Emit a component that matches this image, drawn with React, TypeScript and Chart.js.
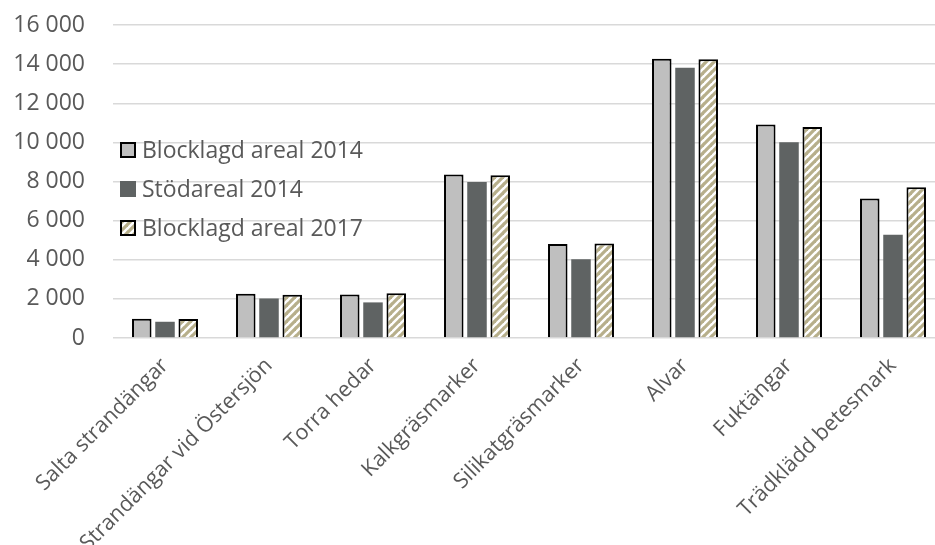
import React, { useEffect, useRef } from 'react';
import { Chart, registerables } from 'chart.js';

Chart.register(...registerables);

const categories = [
  'Salta strandängar',
  'Strandängar vid Östersjön',
  'Torra hedar',
  'Kalkgräsmarker',
  'Silikatgräsmarker',
  'Alvar',
  'Fuktängar',
  'Trädklädd betesmark',
];
const seriesNames = ['Blocklagd areal 2014', 'Stödareal 2014', 'Blocklagd areal 2017'];
const blocklagd2014 = [990, 2260, 2220, 8360, 4800, 14280, 10910, 7130];
const stodareal2014 = [830, 2020, 1820, 7970, 4030, 13820, 10010, 5280];
const blocklagd2017 = [970, 2210, 2290, 8320, 4830, 14250, 10790, 7710];
const yMax = 16000;
const yStep = 2000;

const TEXT = '#595959';
const FONT = '"Open Sans", sans-serif';

function makeHatch(ctx: CanvasRenderingContext2D): CanvasPattern | string {
  const c = document.createElement('canvas');
  const s = 8;
  c.width = s;
  c.height = s;
  const g = c.getContext('2d');
  if (!g) return '#ffffff';
  g.fillStyle = '#ffffff';
  g.fillRect(0, 0, s, s);
  g.strokeStyle = '#b7af8b';
  g.lineWidth = 3.2;
  g.lineCap = 'square';
  for (const off of [-s, 0, s]) {
    g.beginPath();
    g.moveTo(off, s);
    g.lineTo(off + s, 0);
    g.stroke();
  }
  return ctx.createPattern(c, 'repeat') || '#ffffff';
}

const fmt = (v: number) => String(v).replace(/\B(?=(\d{3})+(?!\d))/g, ' ');

const legendPlugin = {
  id: 'insideLegend',
  afterDatasetsDraw(chart: any) {
    const ctx = chart.ctx as CanvasRenderingContext2D;
    const area = chart.chartArea;
    const x0 = area.left + 7;
    const y0 = area.top + 125;
    const gap = 39;
    ctx.save();
    chart.data.datasets.forEach((ds: any, i: number) => {
      const cy = y0 + i * gap;
      const box = 16;
      ctx.fillStyle = ds.backgroundColor;
      ctx.fillRect(x0, cy - box / 2, box, box);
      if (ds.borderWidth > 0) {
        ctx.strokeStyle = '#000';
        ctx.lineWidth = 2;
        ctx.strokeRect(x0 + 1, cy - box / 2 + 1, box - 2, box - 2);
      }
      ctx.fillStyle = TEXT;
      ctx.font = `23px ${FONT}`;
      ctx.textBaseline = 'middle';
      ctx.textAlign = 'left';
      ctx.fillText(ds.label, x0 + box + 6, cy + 1);
    });
    ctx.restore();
  },
};

export default function App() {
  const ref = useRef<HTMLCanvasElement | null>(null);

  useEffect(() => {
    const canvas = ref.current;
    if (!canvas) return;
    const ctx = canvas.getContext('2d')!;
    const hatch = makeHatch(ctx);
    const chart = new Chart(ctx, {
      type: 'bar',
      data: {
        labels: categories,
        datasets: [
          {
            label: seriesNames[0],
            data: blocklagd2014,
            backgroundColor: '#bfbfbf',
            borderColor: '#000000',
            borderWidth: 2,
          },
          {
            label: seriesNames[1],
            data: stodareal2014,
            backgroundColor: '#5f6363',
            borderWidth: 0,
          },
          {
            label: seriesNames[2],
            data: blocklagd2017,
            backgroundColor: hatch as any,
            borderColor: '#000000',
            borderWidth: 2,
          },
        ],
      },
      options: {
        animation: false,
        responsive: false,
        devicePixelRatio: 1,
        datasets: {
          bar: { categoryPercentage: 0.67, barPercentage: 0.84 },
        },
        layout: { padding: { top: 25, right: 5, left: 0, bottom: 0 } },
        plugins: {
          legend: { display: false },
          tooltip: { enabled: false },
        },
        scales: {
          x: {
            grid: { display: false },
            border: { display: false },
            ticks: {
              color: TEXT,
              font: { family: FONT, size: 21.5 },
              minRotation: 45,
              maxRotation: 45,
              padding: 7,
              autoSkip: false,
            },
            afterFit: (s: any) => {
              s.height = 545 - 338;
            },
          },
          y: {
            min: 0,
            max: yMax,
            grid: {
              color: '#d9d9d9',
              lineWidth: 1.5,
              drawTicks: true,
              tickLength: 28,
              tickColor: 'rgba(0,0,0,0)',
            },
            border: { display: false },
            ticks: {
              stepSize: yStep,
              color: TEXT,
              font: { family: FONT, size: 23 },
              padding: 0,
              callback: (v: any) => fmt(Number(v)),
            },
            afterFit: (s: any) => {
              s.width = 113;
            },
          },
        },
      },
      plugins: [legendPlugin],
    });
    return () => chart.destroy();
  }, []);

  return (
    <div style={{ position: 'absolute', left: 0, top: 0, width: 935, height: 545, overflow: 'hidden', background: '#fff' }}>
      <canvas ref={ref} width={950} height={545} style={{ width: 950, height: 545, display: 'block' }} />
    </div>
  );
}
